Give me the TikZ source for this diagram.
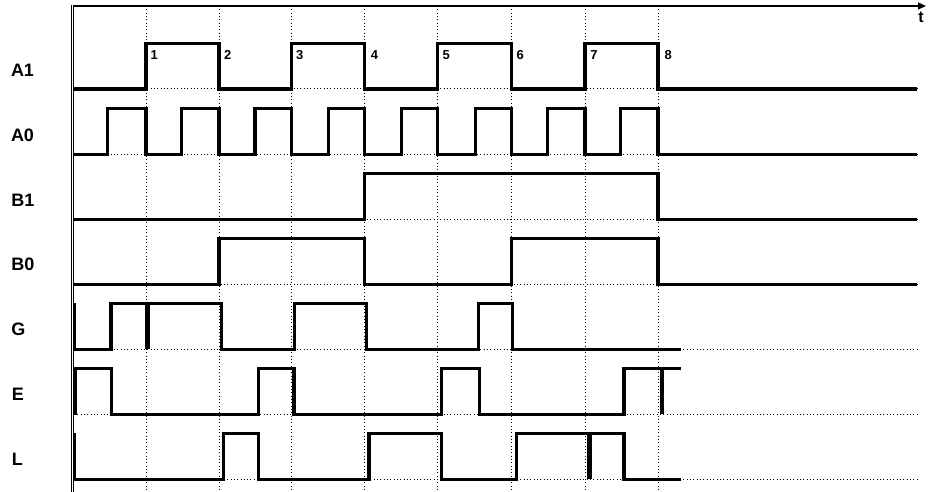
\documentclass[tikz,border=0pt]{standalone}
\usepackage{fontspec}
\setmainfont{Liberation Sans}
\usetikzlibrary{arrows.meta}

\begin{document}
\begin{tikzpicture}[x=1pt, y=-1pt, line width=3.0pt, line join=miter,
  wave/.style={line width=3.3pt},
  glitch/.style={line width=4.2pt},
  griddot/.style={line width=1.0pt, dash pattern=on 1pt off 2.33pt},
  axisline/.style={line width=1.2pt},
  sig/.style={anchor=west, inner sep=0pt, font=\fontsize{18}{21}\selectfont\bfseries},
  tick/.style={anchor=center, inner sep=0pt, font=\fontsize{13}{15}\selectfont\bfseries}]

  %% ════ grid (dotted) ════
  \draw[griddot] (146.0,6.0) -- (146.0,492.0);
  \draw[griddot] (219.0,6.0) -- (219.0,492.0);
  \draw[griddot] (291.5,6.0) -- (291.5,492.0);
  \draw[griddot] (364.5,6.0) -- (364.5,492.0);
  \draw[griddot] (437.5,6.0) -- (437.5,492.0);
  \draw[griddot] (511.5,6.0) -- (511.5,492.0);
  \draw[griddot] (585.0,6.0) -- (585.0,492.0);
  \draw[griddot] (658.0,6.0) -- (658.0,492.0);

  \draw[griddot] (74.0,89.0) -- (917.0,89.0);
  \draw[griddot] (74.0,154.5) -- (917.0,154.5);
  \draw[griddot] (74.0,219.3) -- (917.0,219.3);
  \draw[griddot] (74.0,284.3) -- (917.0,284.3);
  \draw[griddot] (74.0,349.3) -- (917.0,349.3);
  \draw[griddot] (74.0,414.3) -- (917.0,414.3);
  \draw[griddot] (74.0,479.3) -- (917.0,479.3);

  %% ════ axes ════
  \draw[axisline] (71.5,5.0) -- (71.5,492.0);
  \draw[axisline] (73.7,5.0) -- (73.7,492.0);
  \draw[axisline, -{Triangle[length=8pt,width=7pt]}] (73.0,6.0) -- (926.0,6.0);
  \node[anchor=center, inner sep=0pt, font=\fontsize{16}{18}\selectfont\bfseries] (tlbl) at (921.0,17.0) {t};

  %% ════ A1 ════
  \draw[wave] (74.0,89.0) -- (146.0,89.0) -- (146.0,43.5) -- (219.0,43.5) -- (219.0,89.0)
    -- (291.5,89.0) -- (291.5,43.5) -- (364.5,43.5) -- (364.5,89.0)
    -- (437.5,89.0) -- (437.5,43.5) -- (511.5,43.5) -- (511.5,89.0)
    -- (585.0,89.0) -- (585.0,43.5) -- (658.0,43.5) -- (658.0,89.0) -- (917.0,89.0);

  %% ════ A0 ════
  \draw[wave] (74.0,154.5) -- (107.5,154.5) -- (107.5,108.3) -- (146.0,108.3) -- (146.0,154.5)
    -- (181.5,154.5) -- (181.5,108.3) -- (219.0,108.3) -- (219.0,154.5)
    -- (255.0,154.5) -- (255.0,108.3) -- (291.5,108.3) -- (291.5,154.5)
    -- (328.3,154.5) -- (328.3,108.3) -- (364.5,108.3) -- (364.5,154.5)
    -- (401.7,154.5) -- (401.7,108.3) -- (437.5,108.3) -- (437.5,154.5)
    -- (475.7,154.5) -- (475.7,108.3) -- (511.5,108.3) -- (511.5,154.5)
    -- (547.7,154.5) -- (547.7,108.3) -- (585.0,108.3) -- (585.0,154.5)
    -- (620.7,154.5) -- (620.7,108.3) -- (658.0,108.3) -- (658.0,154.5) -- (917.0,154.5);

  %% ════ B1 ════
  \draw[wave] (74.0,219.3) -- (364.5,219.3) -- (364.5,173.3) -- (658.0,173.3) -- (658.0,219.3) -- (917.0,219.3);

  %% ════ B0 ════
  \draw[wave] (74.0,284.3) -- (219.0,284.3) -- (219.0,238.3) -- (364.5,238.3) -- (364.5,284.3)
    -- (511.5,284.3) -- (511.5,238.3) -- (658.0,238.3) -- (658.0,284.3) -- (917.0,284.3);

  %% ════ G ════
  \draw[wave] (74.8,302.8) -- (74.8,349.3) -- (111.0,349.3) -- (111.0,303.3) -- (221.5,303.3) -- (221.5,349.3)
    -- (294.3,349.3) -- (294.3,303.3) -- (366.3,303.3) -- (366.3,349.3)
    -- (478.3,349.3) -- (478.3,303.3) -- (512.8,303.3) -- (512.8,349.3) -- (681.0,349.3);
  \draw[glitch] (147.5,303.3) -- (147.5,349.3);

  %% ════ E ════
  \draw[wave] (681.0,368.3) -- (624.0,368.3) -- (624.0,414.3) -- (479.5,414.3) -- (479.5,368.3)
    -- (441.8,368.3) -- (441.8,414.3) -- (294.0,414.3) -- (294.0,368.3)
    -- (258.3,368.3) -- (258.3,414.3) -- (111.5,414.3) -- (111.5,368.3) -- (75.8,368.3) -- (75.8,414.8);
  \draw[glitch] (661.7,368.3) -- (661.7,414.3);

  %% ════ L ════
  \draw[wave] (74.8,432.8) -- (74.8,479.3) -- (223.3,479.3) -- (223.3,433.3) -- (258.7,433.3) -- (258.7,479.3)
    -- (369.0,479.3) -- (369.0,433.3) -- (441.8,433.3) -- (441.8,479.3)
    -- (516.7,479.3) -- (516.7,433.3) -- (624.0,433.3) -- (624.0,479.3) -- (681.0,479.3);
  \draw[glitch] (589.5,433.3) -- (589.5,479.3);

  %% ════ signal names ════
  \node[sig] (A1lbl) at (9.5,70.7) {A1};
  \node[sig] (A0lbl) at (9.5,135.3) {A0};
  \node[sig] (B1lbl) at (10.0,200.0) {B1};
  \node[sig] (B0lbl) at (10.0,264.5) {B0};
  \node[sig] (Glbl) at (10.0,329.3) {G};
  \node[sig] (Elbl) at (10.5,394.5) {E};
  \node[sig] (Llbl) at (10.5,459.5) {L};

  %% ════ edge numbers ════
  \node[tick] (n1) at (154.2,54.7) {1};
  \node[tick] (n2) at (227.7,54.7) {2};
  \node[tick] (n3) at (299.8,54.7) {3};
  \node[tick] (n4) at (374.5,54.7) {4};
  \node[tick] (n5) at (446.2,54.7) {5};
  \node[tick] (n6) at (520.2,54.7) {6};
  \node[tick] (n7) at (594.0,54.7) {7};
  \node[tick] (n8) at (668.2,54.7) {8};

  \pgfresetboundingbox
  \path[use as bounding box] (0,0) rectangle (929,492);
\end{tikzpicture}
\end{document}
